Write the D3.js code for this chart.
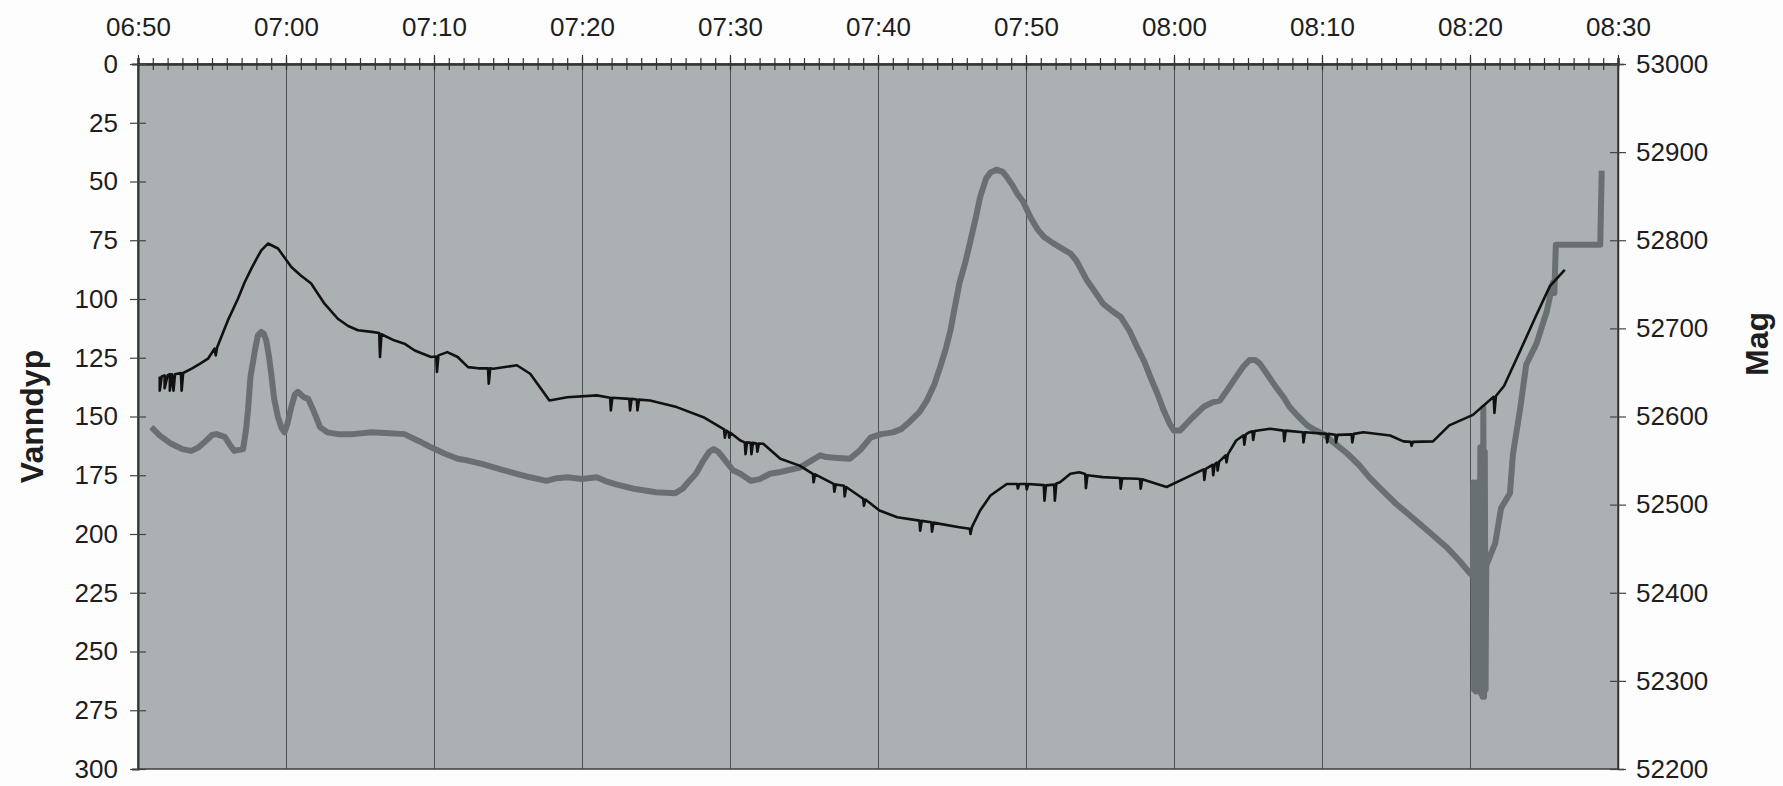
<!DOCTYPE html>
<html>
<head>
<meta charset="utf-8">
<script src="https://cdn.jsdelivr.net/npm/d3@7"></script>
<style>
  html, body { margin: 0; padding: 0; background: #fdfdfd; }
  text { font-family: "Liberation Sans", Arial, Helvetica, sans-serif; fill: #1e1e1e; }
</style>
</head>
<body>
<svg width="1783" height="786"></svg>
<script>
// time ticks along the top, depth ticks on the left, mag ticks on the right
var timeLabels  = ["06:50", "07:00", "07:10", "07:20", "07:30", "07:40", "07:50", "08:00", "08:10", "08:20", "08:30"];
var depthTicks  = [0, 25, 50, 75, 100, 125, 150, 175, 200, 225, 250, 275, 300];
var magTicks    = [52200, 52300, 52400, 52500, 52600, 52700, 52800, 52900, 53000];

// Vanndyp (black) : [minutes after 06:50, depth]  -- spikes are kept as read
var depthData = [
  [1.47,133],[1.47,139],[1.6,133],[1.8,132.5],[1.8,138],[2.0,132.5],[2.15,132],[2.15,139],[2.3,132],[2.4,139],[2.5,132],
  [2.9,131.5],[2.95,139],[3.05,131.5],[3.6,129.7],[4.2,127.5],[4.73,125.4],[5.18,121.1],[5.25,124],[5.35,120.5],
  [6.08,109],[6.76,99.8],[7.2,93],[7.66,87.1],[8.0,83],[8.33,79.3],[8.78,76.4],[9.46,78.5],[10.36,86.4],[11.0,90],
  [11.7,93.4],[12.6,102],[13.5,108.4],[14.2,111.5],[14.86,113.3],[15.8,114],[16.3,114.5],[16.35,124.7],[16.45,115],
  [17.3,117.6],[18.0,119],[18.7,121.9],[19.8,124.7],[20.15,124.5],[20.2,131],[20.3,124],[20.9,122.6],[21.6,124.7],
  [22.3,129],[23.0,129.5],[23.65,129.5],[23.7,136],[23.8,129.5],[24,129.7],[25.6,128.2],[26.5,131.8],[27.8,143.2],
  [29,141.8],[31,141],[31.9,142],[31.95,147.4],[32.05,142],[33.2,142.5],[33.25,147.4],[33.35,142.5],[33.7,142.8],
  [33.75,147.4],[33.85,142.8],[34.6,143.2],[36.4,146],[38.2,150.3],[39.6,155.5],[39.65,159],[39.75,156],[39.9,156.5],
  [39.95,159],[40.05,157],[40.7,160.2],[41.0,161],[41.05,166],[41.15,161],[41.4,161.2],[41.45,166],[41.55,161.2],
  [41.8,161.5],[41.85,165],[41.95,161.5],[42.25,161.6],[43.4,168],[44.7,170.9],[45.6,174.4],[45.65,178],[45.75,174.6],
  [47,178.7],[47.05,182],[47.15,178.9],[47.7,179.5],[47.75,184],[47.85,180],[49,185],[49.05,188],[49.15,185.3],
  [50.1,190],[51.3,192.9],[52.8,194.3],[52.85,198.6],[52.95,194.4],[53.6,195],[53.65,199],[53.75,195.1],[54.2,195.7],
  [55.5,197.1],[56.2,197.8],[56.25,200],[56.35,197],[56.9,190],[57.6,183.6],[58.7,178.7],[59.4,178.7],[59.45,180.7],
  [59.55,178.7],[60,178.7],[60.05,181],[60.15,178.7],[61.2,179.2],[61.25,185.8],[61.35,179.3],[61.9,179],[61.95,185.8],
  [62.05,178.5],[62.3,178],[63,174.4],[63.6,173.7],[64.0,174.5],[64.05,180.5],[64.15,175],[65.2,175.8],[66.35,176.2],
  [66.4,180.7],[66.5,176.3],[67.5,176.5],[67.7,176.6],[67.75,180.7],[67.85,176.7],[69.5,180],[70.9,175.8],[72.0,172.5],
  [72.05,177],[72.15,172.3],[72.6,170.6],[72.65,175],[72.75,170.3],[72.9,169.6],[72.95,173],[73.05,169.2],[73.5,166.5],
  [73.55,169.5],[73.65,166],[74.2,160.2],[74.7,158],[74.75,162],[74.85,157.6],[75.1,156.7],[75.3,156.3],[75.35,160],
  [75.45,156.2],[76.5,155.2],[77.4,156],[77.45,160.5],[77.55,156],[78.7,156.7],[78.75,161],[78.85,156.7],[80.3,157.4],
  [80.35,161],[80.45,157.4],[80.9,157.8],[80.95,161],[81.05,157.8],[82.0,157.6],[82.05,161],[82.15,157.4],[82.8,156.7],
  [84.6,158.1],[85.5,160.6],[86.0,160.8],[86.05,162.5],[86.15,160.8],[87.5,160.6],[88.6,153.8],[90.2,149.3],[91.6,141.6],
  [91.65,148.5],[91.75,141.3],[92.3,137],[93.4,121.9],[94.5,106.6],[95.4,94.5],[96.4,87.6]
];

// Mag (grey) : [minutes after 06:50, nT]
var magData = [
  [0.9,52588],[1.5,52578],[2.25,52569],[3.0,52563],[3.6,52561],[4.1,52565],[4.5,52571],[5.0,52579],[5.3,52580],
  [5.86,52577],[6.2,52568],[6.5,52561],[7.1,52563],[7.3,52585],[7.43,52607],[7.6,52645],[7.9,52675],[8.1,52692],
  [8.33,52696],[8.5,52694],[8.67,52686],[8.85,52668],[9.0,52649],[9.2,52620],[9.46,52599],[9.7,52587],[9.9,52582],
  [10.1,52592],[10.36,52611],[10.6,52625],[10.8,52628],[11.2,52622],[11.5,52620],[11.9,52605],[12.3,52588],[12.8,52582],
  [13.5,52580],[14.5,52580],[15.8,52582],[17,52581],[18.0,52580],[19.0,52572],[19.8,52565],[20.7,52558],[21.6,52552],
  [22.3,52550],[23.3,52546],[24.5,52540],[25.6,52535],[26.5,52531],[27.6,52527],[28.3,52530],[29,52531],[30,52529],
  [31,52531],[31.7,52526],[32.3,52523],[33.5,52518],[35,52514],[36.3,52513],[36.8,52518],[37.2,52526],[37.7,52535],
  [38.2,52550],[38.6,52560],[38.9,52563],[39.2,52560],[39.5,52554],[40.2,52539],[40.7,52535],[41.4,52527],[42,52529],
  [42.7,52535],[43.4,52537],[44.7,52542],[45.5,52550],[46.1,52556],[46.5,52554],[47.3,52553],[48.1,52552],[48.8,52562],
  [49.5,52576],[50.2,52580],[51,52582],[51.6,52586],[52.2,52595],[52.8,52605],[53.3,52618],[53.8,52636],[54.2,52656],
  [54.6,52678],[54.9,52698],[55.2,52725],[55.5,52751],[55.9,52775],[56.2,52796],[56.6,52825],[56.9,52849],[57.3,52870],
  [57.6,52877],[58,52880],[58.4,52878],[58.7,52872],[59.1,52862],[59.4,52853],[59.8,52844],[60.3,52826],[60.8,52812],
  [61.2,52804],[61.8,52797],[62.3,52792],[63,52785],[63.4,52777],[64.1,52755],[64.6,52743],[65.2,52728],[65.8,52720],
  [66.4,52713],[67,52697],[67.5,52679],[68,52662],[68.4,52645],[68.9,52625],[69.3,52607],[69.7,52592],[70,52584],
  [70.4,52584],[71.2,52598],[72,52611],[72.6,52616],[73.1,52618],[73.6,52630],[74.2,52645],[74.7,52657],[75.1,52664],
  [75.5,52664],[75.8,52660],[76.3,52648],[76.9,52633],[77.4,52622],[77.8,52611],[78.4,52600],[79,52590],[79.5,52585],
  [80.1,52580],[80.9,52569],[81.7,52558],[82.5,52545],[83.2,52531],[83.9,52519],[85,52501],[86.2,52484],[87.3,52468],
  [88.4,52452],[89.3,52436],[90.0,52422],[90.2,52419],
  [90.22,52525],[90.28,52290],[90.34,52522],[90.4,52288],[90.46,52525],[90.52,52292],[90.58,52515],[90.64,52300],
  [90.7,52565],[90.76,52285],[90.82,52565],[90.86,52282],[90.9,52610],[90.95,52282],[91.0,52560],[91.05,52290],
  [91.1,52431],
  [91.7,52456],[92.1,52496],[92.7,52513],[92.9,52557],[93.4,52610],[93.8,52659],[94.5,52683],[95.2,52720],[95.6,52752],
  [95.7,52740],[95.75,52768],[95.8,52795],[98.8,52795],[98.9,52879]
];

var parseHM = d3.timeParse("%H:%M");
var timeTicks = timeLabels.map(parseHM);
var t0 = timeTicks[0];
function toDate(m) { return new Date(t0.getTime() + m * 60000); }

var margin = {left: 138, right: 1618, top: 64, bottom: 769};
var plotW = margin.right - margin.left;
var plotH = margin.bottom - margin.top;

var svg = d3.select("svg");

var x = d3.scaleTime()
    .domain([timeTicks[0], timeTicks[timeTicks.length - 1]])
    .range([margin.left, margin.right]);
var yDepth = d3.scaleLinear().domain([0, 300]).range([margin.top, margin.bottom]);
var yMag   = d3.scaleLinear().domain([52200, 53000]).range([margin.bottom, margin.top]);

// plot background
svg.append("rect")
   .attr("x", margin.left).attr("y", margin.top)
   .attr("width", plotW).attr("height", plotH)
   .attr("fill", "#abb1b3");

// vertical grid lines every 10 min
var grid = svg.append("g")
   .attr("transform", "translate(0," + margin.bottom + ")")
   .call(d3.axisBottom(x).tickValues(timeTicks).tickSize(plotH).tickFormat(""));
grid.select(".domain").remove();
grid.selectAll(".tick line").attr("y1", 0).attr("y2", -plotH)
    .attr("stroke", "#4c5254").attr("stroke-width", 1);

// data lines
var lineMag = d3.line()
    .x(function(d) { return x(toDate(d[0])); })
    .y(function(d) { return yMag(d[1]); });
var lineDepth = d3.line()
    .x(function(d) { return x(toDate(d[0])); })
    .y(function(d) { return yDepth(d[1]); });

svg.append("path").datum(magData)
   .attr("d", lineMag)
   .attr("fill", "none").attr("stroke", "#687072").attr("stroke-width", 6)
   .attr("stroke-linejoin", "round");

svg.append("path").datum(depthData)
   .attr("d", lineDepth)
   .attr("fill", "none").attr("stroke", "#111").attr("stroke-width", 2.6)
   .attr("stroke-linejoin", "round");

// plot frame
svg.append("rect")
   .attr("x", margin.left).attr("y", margin.top)
   .attr("width", plotW).attr("height", plotH)
   .attr("fill", "none").attr("stroke", "#3a3e40").attr("stroke-width", 1.5);

// top time axis: minor ticks every minute, labels every 10
var minorAxis = svg.append("g")
   .attr("transform", "translate(0," + margin.top + ")")
   .call(d3.axisTop(x).ticks(d3.timeMinute.every(1)).tickFormat(""));
minorAxis.select(".domain").remove();
minorAxis.selectAll(".tick line").attr("y1", 6).attr("y2", -6).attr("stroke", "#333").attr("stroke-width", 1.2);

var topAxis = svg.append("g")
   .attr("transform", "translate(0," + margin.top + ")")
   .call(d3.axisTop(x).tickValues(timeTicks).tickFormat(d3.timeFormat("%H:%M")).tickPadding(22));
topAxis.select(".domain").attr("stroke", "#333").attr("stroke-width", 2.5);
topAxis.selectAll(".tick line").attr("y1", 6).attr("y2", -9).attr("stroke", "#333").attr("stroke-width", 1.2);
topAxis.selectAll(".tick text").attr("font-size", 26).attr("fill", "#1e1e1e");

// left depth axis
var leftAxis = svg.append("g")
   .attr("transform", "translate(" + margin.left + ",0)")
   .call(d3.axisLeft(yDepth).tickValues(depthTicks).tickPadding(14));
leftAxis.select(".domain").attr("stroke", "#333").attr("stroke-width", 2);
leftAxis.selectAll(".tick line").attr("x1", 8).attr("x2", -8).attr("stroke", "#444").attr("stroke-width", 1.2);
leftAxis.selectAll(".tick text").attr("font-size", 26).attr("fill", "#1e1e1e");

// right mag axis
var rightAxis = svg.append("g")
   .attr("transform", "translate(" + margin.right + ",0)")
   .call(d3.axisRight(yMag).tickValues(magTicks).tickFormat(d3.format("d")).tickPadding(12));
rightAxis.select(".domain").attr("stroke", "#333").attr("stroke-width", 1.5);
rightAxis.selectAll(".tick line").attr("x1", -8).attr("x2", 8).attr("stroke", "#444").attr("stroke-width", 1.2);
rightAxis.selectAll(".tick text").attr("font-size", 26).attr("fill", "#1e1e1e");

// axis titles
svg.append("text")
   .attr("transform", "translate(32," + ((margin.top + margin.bottom) / 2) + ") rotate(-90)")
   .attr("text-anchor", "middle").attr("dominant-baseline", "central")
   .attr("font-size", 32).attr("font-weight", "bold")
   .text("Vanndyp");

svg.append("text")
   .attr("transform", "translate(1757,344) rotate(-90)")
   .attr("text-anchor", "middle").attr("dominant-baseline", "central")
   .attr("font-size", 32).attr("font-weight", "bold")
   .text("Mag");
</script>
</body>
</html>
